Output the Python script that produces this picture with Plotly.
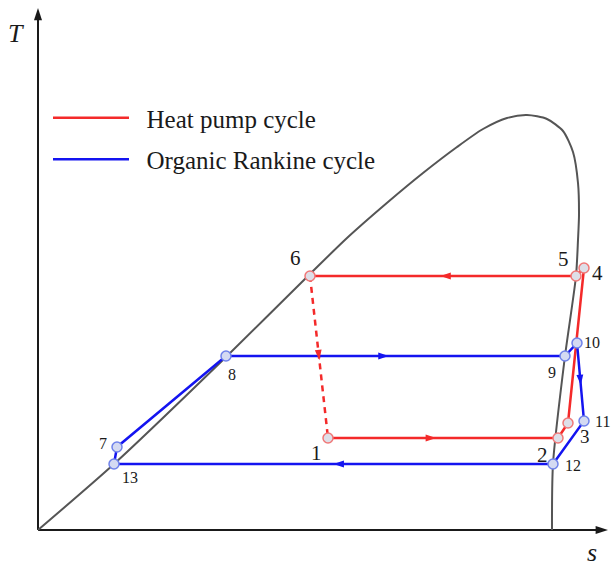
import numpy as np
import plotly.graph_objects as go

# ---- Saturation dome (entropy s, temperature T), arbitrary units ----
dome_s = [0, 76, 188, 272, 309, 350, 385, 419, 445, 469, 489, 509, 525, 535, 540, 541, 540, 538, 527, 515, 514]
dome_T = [0, 66, 173, 256, 292, 328, 357, 383, 401, 412, 415, 411, 399, 378, 347, 315, 290, 254, 174, 66, 0]

# ---- Heat pump cycle states 1..6 ----
hp_labels = ["1", "2", "3", "4", "5", "6"]
hp_s = [290, 520, 530, 546, 538, 272]
hp_T = [92, 92, 107, 262, 254, 254]

# ---- Organic Rankine cycle states 7..13 ----
orc_labels = ["7", "8", "9", "10", "11", "12", "13"]
orc_s = [79, 188, 527, 539, 546, 515, 76]
orc_T = [83, 174, 174, 187, 109, 66, 66]

S_MAX, T_MAX = 570, 522  # axis arrow tips

RED = "#f42a2a"
BLUE = "#1414f0"
GREY = "#555555"
INK = "#1a1a1a"
SERIF = "Liberation Serif, Times New Roman, serif"
PAD = "\u00a0\u00a0"  # extra gap between legend line and its text

fig = go.Figure()

# axes drawn as arrows
fig.add_trace(go.Scatter(x=[0, 0], y=[0, T_MAX - 10], mode="lines",
                         line=dict(color=INK, width=2), showlegend=False, hoverinfo="skip"))
fig.add_trace(go.Scatter(x=[0, S_MAX - 10], y=[0, 0], mode="lines",
                         line=dict(color=INK, width=2), showlegend=False, hoverinfo="skip"))
fig.add_trace(go.Scatter(x=[0, S_MAX], y=[T_MAX, 0], mode="markers",
                         marker=dict(symbol="arrow", size=13, angle=[0, 90], color=INK),
                         showlegend=False, hoverinfo="skip"))

# saturation dome
fig.add_trace(go.Scatter(x=dome_s, y=dome_T, mode="lines",
                         line=dict(color=GREY, width=2, shape="spline", smoothing=0.7),
                         showlegend=False, hoverinfo="skip"))

# heat pump: 1-2-3-4-5-6 solid, 6-1 throttling dashed
hp_path = [0, 1, 2, 3, 4, 5]
fig.add_trace(go.Scatter(x=[hp_s[i] for i in hp_path], y=[hp_T[i] for i in hp_path],
                         mode="lines", line=dict(color=RED, width=2.5),
                         name=PAD + "Heat pump cycle", legendgroup="hp"))
fig.add_trace(go.Scatter(x=[hp_s[5], hp_s[0]], y=[hp_T[5], hp_T[0]], mode="lines",
                         line=dict(color=RED, width=2.5, dash="6px,5px"),
                         showlegend=False, hoverinfo="skip"))

# organic Rankine: 13-7-8-9-10-11-12-13
orc_path = [6, 0, 1, 2, 3, 4, 5, 6]
fig.add_trace(go.Scatter(x=[orc_s[i] for i in orc_path], y=[orc_T[i] for i in orc_path],
                         mode="lines", line=dict(color=BLUE, width=2.5),
                         name=PAD + "Organic Rankine cycle", legendgroup="orc"))


def flow_arrows(s, T, segs, color):
    xs, ys, angs = [], [], []
    for a, b, f in segs:
        ds, dT = s[b] - s[a], T[b] - T[a]
        xs.append(s[a] + f * ds)
        ys.append(T[a] + f * dT)
        angs.append(float(np.degrees(np.arctan2(ds, dT))))
    fig.add_trace(go.Scatter(x=xs, y=ys, mode="markers",
                             marker=dict(symbol="arrow", size=11, angle=angs, color=color),
                             showlegend=False, hoverinfo="skip"))


# direction of flow along the processes (start state, end state, position along segment)
flow_arrows(hp_s, hp_T, [(0, 1, 0.47), (4, 5, 0.51), (5, 0, 0.52)], RED)
flow_arrows(orc_s, orc_T, [(1, 2, 0.48), (3, 4, 0.54), (5, 6, 0.5)], BLUE)

# state points
fig.add_trace(go.Scatter(x=hp_s, y=hp_T, mode="markers",
                         marker=dict(symbol="circle", size=10, color="#dedfe8",
                                     line=dict(color="#f07878", width=1.5)),
                         showlegend=False, hoverinfo="skip"))
fig.add_trace(go.Scatter(x=orc_s, y=orc_T, mode="markers",
                         marker=dict(symbol="circle", size=10, color="#d4daf2",
                                     line=dict(color="#6f82ea", width=1.5)),
                         showlegend=False, hoverinfo="skip"))

# state labels: (dx, dy) offset in px, font size
hp_lab_style = [(-12, -15, 21), (-16, -17, 21), (17, -13, 19), (13, -5, 21), (-13, 17, 21), (-15, 18, 21)]
orc_lab_style = [(-14, 4, 16), (6, -18, 16), (-13, -16, 16), (15, 1, 16), (18, 0, 16), (20, -1, 16), (16, -13, 16)]

annotations = []
for labels, s, T, styles in [(hp_labels, hp_s, hp_T, hp_lab_style),
                             (orc_labels, orc_s, orc_T, orc_lab_style)]:
    for lab, x, y, (dx, dy, fs) in zip(labels, s, T, styles):
        annotations.append(dict(x=x, y=y, text=lab, showarrow=False, xshift=dx, yshift=dy,
                                font=dict(family=SERIF, size=fs, color=INK)))

annotations.append(dict(x=0, y=T_MAX, text="<i>T</i>", showarrow=False, xshift=-22, yshift=-25,
                        font=dict(family=SERIF, size=26, color=INK)))
annotations.append(dict(x=S_MAX, y=0, text="<i>s</i>", showarrow=False, xshift=-16, yshift=-22,
                        font=dict(family=SERIF, size=26, color=INK)))

fig.update_layout(
    width=611, height=566,
    margin=dict(l=0, r=0, t=0, b=0),
    paper_bgcolor="white", plot_bgcolor="white",
    xaxis=dict(range=[-38, 573], visible=False, fixedrange=True),
    yaxis=dict(range=[-36, 530], visible=False, fixedrange=True),
    showlegend=True,
    legend=dict(x=48 / 611, y=1 - 95 / 566, xanchor="left", yanchor="top",
                bgcolor="rgba(0,0,0,0)", itemwidth=76, tracegroupgap=6,
                traceorder="grouped",
                font=dict(family=SERIF, size=25, color=INK)),
    annotations=annotations,
)

fig.write_html("out.html")
